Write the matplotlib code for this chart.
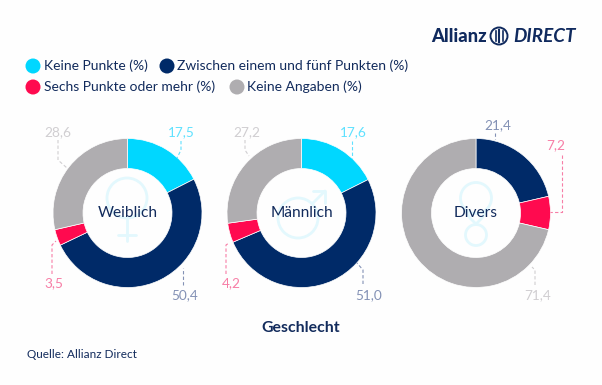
import matplotlib
matplotlib.use("Agg")
import matplotlib.pyplot as plt
from matplotlib.patches import Circle

plt.rcParams['font.family'] = ['Lato', 'DejaVu Sans']

W, H = 602, 385
groups = ["Weiblich", "Männlich", "Divers"]
segments = ["Keine Punkte (%)", "Zwischen einem und fünf Punkten (%)",
            "Sechs Punkte oder mehr (%)", "Keine Angaben (%)"]
weiblich = [17.5, 50.4, 3.5, 28.6]
maennlich = [17.6, 51.0, 4.2, 27.2]
divers = [0.0, 21.4, 7.2, 71.4]
colors = ["#00D7FF", "#002A68", "#FF0A4F", "#AFADB0"]
pale = ["#5FE1FF", "#8391B5", "#F77EA6", "#D0CED1"]
NAVY = "#122B5C"
ICON = "#E3F8FD"

fig = plt.figure(figsize=(W / 100, H / 100), dpi=100, facecolor="#FEFEFE")
ov = fig.add_axes([0, 0, 1, 1], zorder=3)
ov.set_xlim(0, W); ov.set_ylim(H, 0); ov.axis("off"); ov.patch.set_alpha(0)

centers = [127.5, 301.5, 476]
cy, R, r = 213, 74.5, 44.5
for cx, vals in zip(centers, [weiblich, maennlich, divers]):
    ax = fig.add_axes([(cx - R) / W, 1 - (cy + R) / H, 2 * R / W, 2 * R / H], zorder=1)
    ax.pie(vals, colors=colors, startangle=90, counterclock=False, radius=1,
           wedgeprops=dict(width=1 - r / R, edgecolor="white", linewidth=0.5))
    ax.set_xlim(-1, 1); ax.set_ylim(-1, 1)

# faint gender icons
icon = dict(color=ICON, lw=2.0, solid_capstyle="round")
ov.add_patch(Circle((127, 198), 20, fill=False, ec=ICON, lw=2.0))
ov.plot([127, 127], [218, 241], **icon)
ov.plot([118, 136], [235, 235], **icon)
ov.add_patch(Circle((298, 218), 20, fill=False, ec=ICON, lw=2.0))
ov.plot([312, 325], [204, 191], **icon)
ov.plot([313, 325, 325], [191, 191, 203], **icon)
ov.add_patch(Circle((476, 198), 15.5, fill=False, ec=ICON, lw=2.0))
ov.add_patch(Circle((476, 235), 10.5, fill=False, ec=ICON, lw=2.0))
ov.plot([464, 470, 476], [209, 218, 224], **icon)
ov.plot([488, 482, 476], [209, 218, 224], **icon)

for cx, g in zip(centers, groups):
    ov.text(cx, 213, g, ha="center", va="center", fontsize=11.2, color=NAVY)

# value labels with leader lines
labels = [
    (weiblich[0], 0, 181, 132, [(181, 141), (181, 150), (177, 158)]),
    (weiblich[1], 1, 185, 295, [(183, 285), (183, 268)]),
    (weiblich[2], 2, 54, 283, [(52, 274), (52, 245), (56, 241)]),
    (weiblich[3], 3, 58, 132, [(58, 140), (58, 160), (67, 168)]),
    (maennlich[0], 0, 353, 132, [(352, 141), (352, 158)]),
    (maennlich[1], 1, 369, 295, [(363, 284), (363, 270), (357, 263)]),
    (maennlich[2], 2, 231, 283, [(226, 274), (226, 245), (229, 243)]),
    (maennlich[3], 3, 247, 132, [(245, 140), (245, 150), (249, 156)]),
    (divers[1], 1, 498, 125, [(495, 133), (495, 139)]),
    (divers[2], 2, 556, 145, [(562, 155), (562, 212), (550, 212)]),
    (divers[3], 3, 538, 295, [(535, 285), (535, 270), (532, 267)]),
]
for v, i, tx, ty, pts in labels:
    ov.text(tx, ty, f"{v:.1f}".replace(".", ","), ha="center", va="center",
            fontsize=9.8, color=pale[i])
    ov.plot(*zip(*pts), color=pale[i], lw=0.8, ls=(0, (3, 2)))

# legend: colour dot x, text x, y
legend = [(0, 33, 44, 66), (1, 167, 177, 66), (2, 33, 44, 87), (3, 237, 247, 87)]
for i, dx, tx, y in legend:
    ov.add_patch(Circle((dx, y), 7.5, color=colors[i], lw=0))
    ov.text(tx, y, segments[i], ha="left", va="center", fontsize=10.0, color=NAVY)

ov.text(301, 328, "Geschlecht", ha="center", va="center", fontsize=11.4,
        fontweight="bold", color=NAVY)
ov.text(27, 355, "Quelle: Allianz Direct", ha="left", va="center", fontsize=8.45, color=NAVY)

# logo
ov.text(431, 36, "Allianz", ha="left", va="center", fontsize=13.2, fontweight="black", color="#102A5E")
ov.add_patch(Circle((499, 36), 8.5, fill=False, ec="#102A5E", lw=1.4))
ov.plot([495.5, 495.5], [31, 41], color="#102A5E", lw=1.2)
ov.plot([499, 499], [30, 42], color="#102A5E", lw=1.5)
ov.plot([502.5, 502.5], [31, 41], color="#102A5E", lw=1.2)
ov.text(513, 36, "DIRECT", ha="left", va="center", fontsize=13.6, fontweight="bold",
        fontstyle="italic", color="#102A5E")

fig.savefig("out.png", dpi=100, facecolor=fig.get_facecolor())
